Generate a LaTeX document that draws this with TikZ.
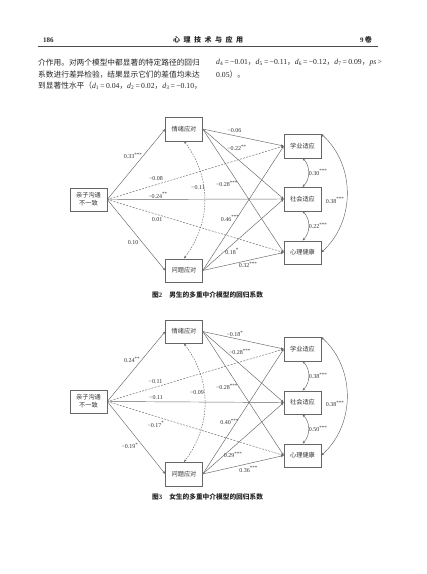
\documentclass[tikz,border=0pt]{standalone}
\usepackage{fontspec}
\setmainfont{Liberation Serif}
\newfontfamily\cjk{Noto Sans CJK SC}
\usepackage{tikz}
\usetikzlibrary{arrows.meta, positioning}
\newcommand{\dval}[2]{{\rmfamily\textit{d}\textsubscript{#1}\,=\,#2}}
\newcommand{\pstar}[1]{\textsuperscript{#1}}

\begin{document}
\begin{tikzpicture}[
  x=1pt, y=-1pt,
  varbox/.style={draw=black!60, line width=0.5pt, minimum width=37pt, minimum height=23.5pt, inner sep=1pt, text=black!80, font=\fontsize{6.2}{8}\selectfont\cjk},
  coef/.style={inner sep=0.5pt, text=black!80, font=\fontsize{6}{7}\selectfont},
  pathln/.style={draw=black!60, line width=0.45pt, -{Stealth[length=3pt,width=2.2pt]}},
  nsln/.style={pathln, dash pattern=on 2pt off 1.3pt},
  covln/.style={draw=black!60, line width=0.45pt, {Stealth[length=3pt,width=2.2pt]}-{Stealth[length=3pt,width=2.2pt]}},
  bodytxt/.style={inner sep=0pt, anchor=west, text=black!85, font=\fontsize{7.7}{9}\selectfont\cjk},
  headtxt/.style={inner sep=0pt, text=black!85, font=\fontsize{7}{8}\selectfont\bfseries},
  captxt/.style={inner sep=0pt, anchor=west, text=black!85, font=\fontsize{6.7}{8}\selectfont\cjk\bfseries}
]
\fill[white] (0,0) rectangle (427,574);
\useasboundingbox (0,0) rectangle (427,574);

% Running head
\node[headtxt, anchor=west] (pgno) at (43,40) {186};
\node[headtxt, font=\fontsize{7}{8}\selectfont\cjk\bfseries] (jname) at (208,40) {心\hspace{3.5pt}理\hspace{3.5pt}技\hspace{3.5pt}术\hspace{3.5pt}与\hspace{3.5pt}应\hspace{3.5pt}用};
\node[headtxt, anchor=east] (vol) at (372,40) {9\,{\cjk 卷}};
\draw[black!70, line width=0.6pt] (38,46.7) -- (378,46.7);

% Body text, two columns
\node[bodytxt] (t1) at (38,62.7) {介作用。对两个模型中都显著的特定路径的回归};
\node[bodytxt] (t2) at (38,74.2) {系数进行差异检验，结果显示它们的差值均未达};
\node[bodytxt] (t3) at (38,85.7) {\hbox to 162pt{到显著性水平（\dval{1}{0.04}，\hfill\dval{2}{0.02}，\hfill\dval{3}{−0.10}，}};
\node[bodytxt] (t4) at (216,62.7) {\hbox to 161pt{\dval{4}{−0.01}，\hfill\dval{5}{−0.11}，\hfill\dval{6}{−0.12}，\hfill\dval{7}{0.09}，\hfill{\rmfamily\textit{ps}\,>}}};
\node[bodytxt] (t5) at (216,74.2) {{\rmfamily 0.05}）。};

% Figure 2: boys
\node[varbox, align=center] (par2) at (88.5,199.5) {亲子沟通\\不一致};
\node[varbox] (emo2) at (184,129) {情绪应对};
\node[varbox] (pro2) at (184,270.5) {问题应对};
\node[varbox] (aca2) at (302.5,146) {学业适应};
\node[varbox] (soc2) at (302.5,199) {社会适应};
\node[varbox] (men2) at (302.5,252.5) {心理健康};

\draw[pathln] (par2.east) -- (emo2.west);
\draw[pathln] (par2.east) -- (pro2.west);
\draw[nsln] (par2.east) -- (aca2.west);
\draw[pathln] (par2.east) -- (soc2.west);
\draw[nsln] (par2.east) -- (men2.west);
\draw[pathln] (emo2.east) -- (aca2.west);
\draw[pathln] (emo2.east) -- (soc2.west);
\draw[pathln] (emo2.east) -- (men2.west);
\draw[pathln] (pro2.east) -- (aca2.west);
\draw[pathln] (pro2.east) -- (soc2.west);
\draw[pathln] (pro2.east) -- (men2.west);
\draw[covln, dash pattern=on 1.5pt off 1.2pt] (emo2.south) to[bend left=37] (pro2.north);
\draw[covln] (aca2.south) to[bend left=45] (soc2.north);
\draw[covln] (soc2.south) to[bend left=45] (men2.north);
\draw[covln] (aca2.north east) to[bend left=48] (men2.east);

\node[coef] (c2a) at (133,156) {0.33\pstar{***}};
\node[coef] (c2b) at (156,179) {−0.08};
\node[coef] (c2c) at (158,195.5) {−0.24\pstar{**}};
\node[coef] (c2d) at (157,220) {0.01};
\node[coef] (c2e) at (133,242.7) {0.10};
\node[coef] (c2f) at (198,188) {−0.11};
\node[coef] (c2g) at (234.5,131) {−0.06};
\node[coef] (c2h) at (237,148) {−0.22\pstar{**}};
\node[coef] (c2i) at (227,184) {−0.28\pstar{***}};
\node[coef] (c2j) at (230,218.5) {0.46\pstar{***}};
\node[coef] (c2k) at (232,251.5) {0.18\pstar{*}};
\node[coef] (c2l) at (248,265) {0.32\pstar{***}};
\node[coef] (c2m) at (318,172.5) {0.30\pstar{***}};
\node[coef] (c2n) at (318,226) {0.22\pstar{***}};
\node[coef] (c2o) at (335,200.5) {0.38\pstar{***}};

\node[captxt] (cap2) at (152,295) {图{\rmfamily 2}\hspace{7pt}男生的多重中介模型的回归系数};

% Figure 3: girls
\node[varbox, align=center] (par3) at (88.5,401.5) {亲子沟通\\不一致};
\node[varbox] (emo3) at (184,331.5) {情绪应对};
\node[varbox] (pro3) at (184,474) {问题应对};
\node[varbox] (aca3) at (302.5,349) {学业适应};
\node[varbox] (soc3) at (302.5,402.5) {社会适应};
\node[varbox] (men3) at (302.5,455.5) {心理健康};

\draw[pathln] (par3.east) -- (emo3.west);
\draw[pathln] (par3.east) -- (pro3.west);
\draw[nsln] (par3.east) -- (aca3.west);
\draw[pathln] (par3.east) -- (soc3.west);
\draw[nsln] (par3.east) -- (men3.west);
\draw[pathln] (emo3.east) -- (aca3.west);
\draw[pathln] (emo3.east) -- (soc3.west);
\draw[pathln] (emo3.east) -- (men3.west);
\draw[pathln] (pro3.east) -- (aca3.west);
\draw[pathln] (pro3.east) -- (soc3.west);
\draw[pathln] (pro3.east) -- (men3.west);
\draw[covln, dash pattern=on 1.5pt off 1.2pt] (emo3.south) to[bend left=37] (pro3.north);
\draw[covln] (aca3.south) to[bend left=45] (soc3.north);
\draw[covln] (soc3.south) to[bend left=45] (men3.north);
\draw[covln] (aca3.north east) to[bend left=48] (men3.east);

\node[coef] (c3a) at (132,360) {0.24\pstar{**}};
\node[coef] (c3b) at (155.5,381.3) {−0.11};
\node[coef] (c3c) at (156,398) {−0.11};
\node[coef] (c3d) at (156,424.3) {−0.17\pstar{*}};
\node[coef] (c3e) at (130,446) {−0.19\pstar{*}};
\node[coef] (c3f) at (197,392.7) {−0.09};
\node[coef] (c3g) at (235,334) {−0.18\pstar{*}};
\node[coef] (c3h) at (240,351.7) {−0.28\pstar{***}};
\node[coef] (c3i) at (227,386.7) {−0.28\pstar{***}};
\node[coef] (c3j) at (229.5,422) {0.40\pstar{***}};
\node[coef] (c3k) at (233,455) {0.29\pstar{***}};
\node[coef] (c3l) at (248.5,469.3) {0.36\pstar{***}};
\node[coef] (c3m) at (318,375.7) {0.38\pstar{***}};
\node[coef] (c3n) at (318,429) {0.50\pstar{***}};
\node[coef] (c3o) at (335,404) {0.38\pstar{***}};

\node[captxt] (cap3) at (152,497) {图{\rmfamily 3}\hspace{7pt}女生的多重中介模型的回归系数};
\end{tikzpicture}
\end{document}
